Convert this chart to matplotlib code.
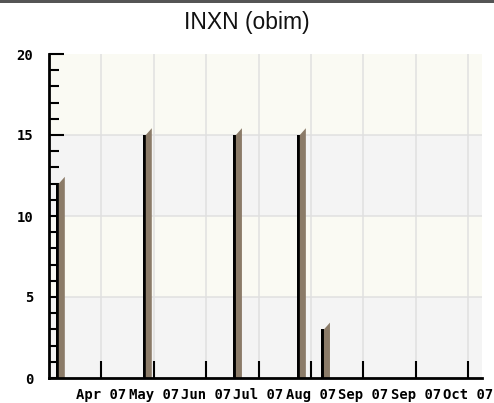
import matplotlib
matplotlib.use("Agg")
import matplotlib.pyplot as plt
from matplotlib.patches import Polygon, Rectangle
from matplotlib.ticker import MultipleLocator

# ---- data ----
tick_labels = ["Apr 07", "May 07", "Jun 07", "Jul 07", "Aug 07", "Sep 07", "Sep 07", "Oct 07"]
tick_pos = [1, 2, 3, 4, 5, 6, 7, 8]
bar_x = [0.13, 1.79, 3.51, 4.73, 5.19]
bar_values = [12, 15, 15, 15, 3]
title = "INXN (obim)"

W, H = 494, 403
fig = plt.figure(figsize=(W / 100, H / 100), dpi=100)
fig.patch.set_facecolor("white")

left, right, top, bottom = 49, 482, 54, 378
ax = fig.add_axes([left / W, (H - bottom) / H, (right - left) / W, (bottom - top) / H])
ax.set_xlim(0, (right - left) / 52.4)
ax.set_ylim(0, 20)
ax.set_facecolor("white")

# background bands
band_colors = ["#f4f4f4", "#fafaf3", "#f4f4f4", "#fafaf3"]
for i, c in enumerate(band_colors):
    ax.axhspan(i * 5, (i + 1) * 5, color=c, zorder=0, lw=0)

# grid
for t in tick_pos:
    ax.axvline(t, color="#e0e0e0", lw=1.1, zorder=1)
for yv in [5, 10, 15]:
    ax.axhline(yv, color="#e0e0e0", lw=1.1, zorder=1)

# bars: black edge + brown slanted face
wb = 3 / 52.4
wf = 6 / 52.4
off = 0.42
ax.bar(bar_x, bar_values, width=wb, align="edge", color="black", zorder=3, lw=0)
for x, v in zip(bar_x, bar_values):
    poly = Polygon([(x + wb, 0), (x + wb + wf, 0), (x + wb + wf, v + off), (x + wb, v)],
                   closed=True, facecolor="#8b7b68", edgecolor="none", zorder=3)
    ax.add_patch(poly)

# axes styling
for s in ["top", "right"]:
    ax.spines[s].set_visible(False)
for s in ["left", "bottom"]:
    ax.spines[s].set_linewidth(2)
    ax.spines[s].set_color("black")
    ax.spines[s].set_zorder(5)

ax.set_yticks([0, 5, 10, 15, 20])
ax.yaxis.set_minor_locator(MultipleLocator(1))
ax.tick_params(axis="y", which="major", direction="in", length=11, width=1.5, color="black", pad=11.5)
ax.tick_params(axis="y", which="minor", direction="in", length=7, width=1.5, color="black")
ax.set_xticks(tick_pos)
ax.set_xticklabels(tick_labels)
ax.tick_params(axis="x", which="major", direction="in", length=12, width=1.5, color="black", pad=7)
for lab in ax.get_xticklabels() + ax.get_yticklabels():
    lab.set_family("DejaVu Sans Mono")
    lab.set_fontweight("bold")
    lab.set_fontsize(10)
ax.set_axisbelow(False)

fig.text(0.5, 1 - 22 / H, title, ha="center", va="center", fontsize=16.5,
         family="Liberation Sans", color="#111111")

# top border
fig.add_artist(Rectangle((0, 1 - 3 / H), 1, 3 / H, transform=fig.transFigure,
                         facecolor="#555555", edgecolor="none"))

fig.savefig("out.png", dpi=100)
